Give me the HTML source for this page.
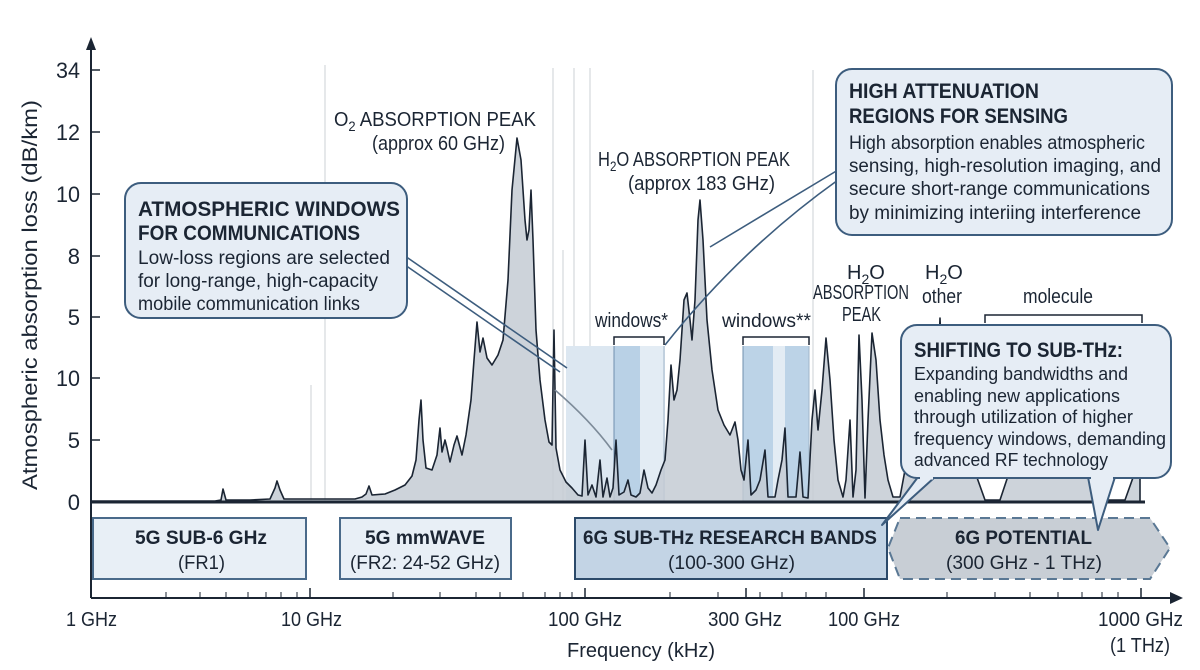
<!DOCTYPE html>
<html><head><meta charset="utf-8"><style>
body{margin:0;background:#fff;}
svg{display:block;font-family:"Liberation Sans",sans-serif;}
</style></head><body>
<svg width="1200" height="670" viewBox="0 0 1200 670" xmlns="http://www.w3.org/2000/svg">
<rect width="1200" height="670" fill="#fff"/>
<g stroke="#d4d8dc" stroke-width="1.2">
<line x1="325" y1="65" x2="325" y2="502"/>
<line x1="311" y1="385" x2="311" y2="502"/>
<line x1="553" y1="68" x2="553" y2="502"/>
<line x1="563" y1="250" x2="563" y2="502"/>
<line x1="574" y1="68" x2="574" y2="502"/>
<line x1="590" y1="68" x2="590" y2="502"/>
<line x1="813" y1="70" x2="813" y2="502"/>
</g>
<g>
<rect x="566" y="346" width="48" height="156" fill="#dce7f1"/>
<rect x="614" y="346" width="26" height="156" fill="#b9d1e6"/>
<rect x="640" y="346" width="25" height="156" fill="#e3ecf4"/>
<rect x="743" y="346" width="30" height="156" fill="#bcd3e7"/>
<rect x="773" y="346" width="12" height="156" fill="#e3ecf4"/>
<rect x="785" y="346" width="24" height="156" fill="#bcd3e7"/>
<line x1="614" y1="346" x2="614" y2="502" stroke="#6f8fae" stroke-width="1"/>
<line x1="664" y1="346" x2="664" y2="502" stroke="#9fb4c8" stroke-width="1"/>
<line x1="743" y1="346" x2="743" y2="502" stroke="#6f8fae" stroke-width="1"/>
<line x1="809" y1="346" x2="809" y2="502" stroke="#9fb4c8" stroke-width="1"/>
</g>
<path fill="#c4cbd3" fill-opacity="0.85" stroke="#1b2533" stroke-width="1.6" stroke-linejoin="round" d="
M91,501 L215,501 L221,500 L223,489 L226,500 L250,500 L270,499 L275,488 L277,481 L280,490 L284,499 L355,499 L362,497 L366,494 L369,486 L372,495 L385,494 L395,490 L405,485 L412,476 L416,460 L419,420 L421,400 L423,440 L426,468 L432,470 L437,455 L440,428 L442,452 L445,440 L447,448 L450,462 L454,445 L457,436 L462,455 L466,435 L471,400 L474,360 L477,322 L480,352 L483,338 L487,358 L492,365 L498,355 L503,340 L508,280 L512,190 L517,138 L521,160 L525,220 L527,240 L529,230 L531,190 L533,240 L536,330 L540,380 L545,420 L549,442 L552,445 L554,330 L556,448 L560,470 L566,482 L572,488 L578,495 L582,496 L585,440 L588,495 L592,485 L596,497 L600,460 L603,497 L607,478 L610,497 L613,488 L616,440 L619,495 L624,492 L628,480 L631,495 L636,497 L640,493 L644,470 L648,488 L652,493 L656,485 L661,470 L665,460 L668,420 L671,365 L674,400 L677,390 L680,360 L684,300 L687,293 L690,320 L692,340 L695,300 L698,220 L700,200 L703,240 L707,320 L712,370 L718,410 L724,425 L730,435 L735,422 L738,440 L741,470 L744,480 L748,440 L751,495 L756,490 L760,480 L765,450 L768,497 L775,497 L778,480 L782,460 L785,428 L788,497 L796,497 L800,452 L803,497 L808,498 L812,420 L815,390 L818,430 L822,390 L826,338 L830,380 L834,440 L838,480 L843,497 L846,480 L850,420 L853,497 L856,470 L859,335 L862,400 L865,498 L868,420 L872,333 L876,360 L880,420 L884,455 L888,480 L893,497 L900,497 L905,470 L925,470 L930,440 L936,420 L940,318 L944,420 L950,470 L975,472 L985,500 L1000,500 L1010,470 L1085,470 L1100,500 L1125,500 L1135,472 L1140,472 L1140,502 L91,502 Z"/>
<line x1="91" y1="502" x2="1145" y2="502" stroke="#1b2533" stroke-width="3"/>
<line x1="91" y1="598" x2="91" y2="48" stroke="#1b2533" stroke-width="2"/>
<polygon points="91,37 86,50 96,50" fill="#1b2533"/>
<g stroke="#1b2533" stroke-width="1.5">
<line x1="91" y1="70" x2="100" y2="70"/><line x1="91" y1="132" x2="100" y2="132"/>
<line x1="91" y1="194" x2="100" y2="194"/><line x1="91" y1="256" x2="100" y2="256"/>
<line x1="91" y1="317" x2="100" y2="317"/><line x1="91" y1="378" x2="100" y2="378"/>
<line x1="91" y1="440" x2="100" y2="440"/>
</g>
<g font-size="22" fill="#1b2533" text-anchor="end">
<text x="80" y="78" textLength="24" lengthAdjust="spacingAndGlyphs">34</text><text x="80" y="140" textLength="24" lengthAdjust="spacingAndGlyphs">12</text><text x="80" y="202" textLength="24" lengthAdjust="spacingAndGlyphs">10</text>
<text x="80" y="264">8</text><text x="80" y="325">5</text><text x="80" y="386" textLength="24" lengthAdjust="spacingAndGlyphs">10</text>
<text x="80" y="448">5</text><text x="80" y="510">0</text>
</g>
<text transform="translate(37,295) rotate(-90)" font-size="21" fill="#1b2533" text-anchor="middle" textLength="390" lengthAdjust="spacingAndGlyphs">Atmospheric absorption loss (dB/km)</text>
<line x1="91" y1="598" x2="1172" y2="598" stroke="#1b2533" stroke-width="2"/>
<polygon points="1183,598 1170,592 1170,604" fill="#1b2533"/>
<g stroke="#1b2533" stroke-width="1">
<line x1="166" y1="592" x2="166" y2="598"/><line x1="200" y1="592" x2="200" y2="598"/><line x1="226" y1="592" x2="226" y2="598"/><line x1="248" y1="592" x2="248" y2="598"/><line x1="266" y1="592" x2="266" y2="598"/><line x1="281" y1="592" x2="281" y2="598"/><line x1="297" y1="592" x2="297" y2="598"/>
<line x1="310" y1="588" x2="310" y2="598" stroke-width="1.5"/>
<line x1="393" y1="592" x2="393" y2="598"/><line x1="440" y1="592" x2="440" y2="598"/><line x1="476" y1="592" x2="476" y2="598"/><line x1="500" y1="592" x2="500" y2="598"/><line x1="523" y1="592" x2="523" y2="598"/><line x1="545" y1="592" x2="545" y2="598"/><line x1="560" y1="592" x2="560" y2="598"/><line x1="572" y1="592" x2="572" y2="598"/>
<line x1="585" y1="588" x2="585" y2="598" stroke-width="1.5"/>
<line x1="670" y1="592" x2="670" y2="598"/><line x1="718" y1="592" x2="718" y2="598"/><line x1="746" y1="588" x2="746" y2="598" stroke-width="1.5"/><line x1="760" y1="592" x2="760" y2="598"/><line x1="782" y1="592" x2="782" y2="598"/><line x1="806" y1="592" x2="806" y2="598"/><line x1="826" y1="592" x2="826" y2="598"/>
<line x1="864" y1="588" x2="864" y2="598" stroke-width="1.5"/>
<line x1="947" y1="592" x2="947" y2="598"/><line x1="995" y1="592" x2="995" y2="598"/><line x1="1030" y1="592" x2="1030" y2="598"/><line x1="1058" y1="592" x2="1058" y2="598"/><line x1="1082" y1="592" x2="1082" y2="598"/><line x1="1102" y1="592" x2="1102" y2="598"/><line x1="1118" y1="592" x2="1118" y2="598"/>
<line x1="1141" y1="588" x2="1141" y2="598" stroke-width="1.5"/>
</g>
<g font-size="20" fill="#1b2533">
<text x="66" y="626" textLength="51" lengthAdjust="spacingAndGlyphs">1 GHz</text>
<text x="281" y="626" textLength="61" lengthAdjust="spacingAndGlyphs">10 GHz</text>
<text x="548" y="626" textLength="74" lengthAdjust="spacingAndGlyphs">100 GHz</text>
<text x="708" y="626" textLength="74" lengthAdjust="spacingAndGlyphs">300 GHz</text>
<text x="828" y="626" textLength="72" lengthAdjust="spacingAndGlyphs">100 GHz</text>
<text x="1098" y="626" textLength="85" lengthAdjust="spacingAndGlyphs">1000 GHz</text>
<text x="1110" y="652" textLength="60" lengthAdjust="spacingAndGlyphs">(1 THz)</text>
<text x="567" y="657" textLength="148" lengthAdjust="spacingAndGlyphs">Frequency (kHz)</text>
</g>
<rect x="93" y="518" width="213" height="61" fill="#e8eff6" stroke="#4a6a8a" stroke-width="2"/>
<text x="135" y="544" font-size="19" font-weight="bold" fill="#1b2533" textLength="132" lengthAdjust="spacingAndGlyphs">5G SUB-6 GHz</text>
<text x="178" y="569" font-size="19" fill="#1b2533" textLength="47" lengthAdjust="spacingAndGlyphs">(FR1)</text>
<rect x="340" y="518" width="171" height="61" fill="#e8eff6" stroke="#4a6a8a" stroke-width="2"/>
<text x="365" y="544" font-size="19" font-weight="bold" fill="#1b2533" textLength="120" lengthAdjust="spacingAndGlyphs">5G mmWAVE</text>
<text x="350" y="569" font-size="19" fill="#1b2533" textLength="150" lengthAdjust="spacingAndGlyphs">(FR2: 24-52 GHz)</text>
<rect x="575" y="518" width="312" height="61" fill="#c3d4e5" stroke="#2c4a6a" stroke-width="2"/>
<text x="583" y="544" font-size="19" font-weight="bold" fill="#1b2533" textLength="294" lengthAdjust="spacingAndGlyphs">6G SUB-THz RESEARCH BANDS</text>
<text x="668" y="569" font-size="19" fill="#1b2533" textLength="127" lengthAdjust="spacingAndGlyphs">(100-300 GHz)</text>
<polygon points="900,518 1150,518 1170,548 1150,579 900,579 888,548" fill="#c8ced5" stroke="#5a7894" stroke-width="2" stroke-dasharray="10,6"/>
<text x="955" y="544" font-size="19" font-weight="bold" fill="#1b2533" textLength="137" lengthAdjust="spacingAndGlyphs">6G POTENTIAL</text>
<text x="946" y="569" font-size="19" fill="#1b2533" textLength="156" lengthAdjust="spacingAndGlyphs">(300 GHz - 1 THz)</text>
<g stroke="#3d5d7e" stroke-width="1.6" fill="none">
<line x1="405" y1="256" x2="567" y2="368"/>
<line x1="405" y1="265" x2="560" y2="372"/>
<path d="M555,390 Q590,420 612,450" stroke="#7d8b99"/>
<line x1="838" y1="170" x2="710" y2="247"/>
<path d="M838,180 Q740,250 665,345"/>
</g>
<g font-size="20" fill="#1b2533">
<text x="334" y="126" textLength="202" lengthAdjust="spacingAndGlyphs">O<tspan font-size="14" dy="5">2</tspan><tspan dy="-5"> ABSORPTION PEAK</tspan></text>
<text x="372" y="150" textLength="133" lengthAdjust="spacingAndGlyphs">(approx 60 GHz)</text>
<text x="598" y="166" textLength="192" lengthAdjust="spacingAndGlyphs">H<tspan font-size="14" dy="5">2</tspan><tspan dy="-5">O ABSORPTION PEAK</tspan></text>
<text x="628" y="190" textLength="147" lengthAdjust="spacingAndGlyphs">(approx 183 GHz)</text>
<text x="595" y="327" textLength="73" lengthAdjust="spacingAndGlyphs">windows*</text>
<text x="722" y="327" font-size="19" textLength="89" lengthAdjust="spacingAndGlyphs">windows**</text>
<text x="847" y="279">H<tspan font-size="14" dy="5">2</tspan><tspan dy="-5">O</tspan></text>
<text x="813" y="299" textLength="96" lengthAdjust="spacingAndGlyphs">ABSORPTION</text>
<text x="842" y="321" textLength="39" lengthAdjust="spacingAndGlyphs">PEAK</text>
<text x="925" y="279">H<tspan font-size="14" dy="5">2</tspan><tspan dy="-5">O</tspan></text>
<text x="922" y="303" textLength="40" lengthAdjust="spacingAndGlyphs">other</text>
<text x="1023" y="303" textLength="70" lengthAdjust="spacingAndGlyphs">molecule</text>
</g>
<g stroke="#1b2533" stroke-width="1.5" fill="none">
<polyline points="614,345 614,337 664,337 664,345"/>
<polyline points="743,345 743,337 809,337 809,345"/>
<polyline points="985,323 985,315 1142,315 1142,323"/>
</g>
<rect x="125" y="183" width="282" height="135" rx="16" fill="#e6edf5" stroke="#3d5d7e" stroke-width="2"/>
<text x="138" y="216" font-size="21" font-weight="bold" fill="#1b2533" textLength="262" lengthAdjust="spacingAndGlyphs">ATMOSPHERIC WINDOWS</text>
<text x="138" y="240" font-size="21" font-weight="bold" fill="#1b2533" textLength="222" lengthAdjust="spacingAndGlyphs">FOR COMMUNICATIONS</text>
<text x="138" y="264" font-size="19" fill="#1b2533" textLength="252" lengthAdjust="spacingAndGlyphs">Low-loss regions are selected</text>
<text x="138" y="287" font-size="19" fill="#1b2533" textLength="240" lengthAdjust="spacingAndGlyphs">for long-range, high-capacity</text>
<text x="138" y="310" font-size="19" fill="#1b2533" textLength="222" lengthAdjust="spacingAndGlyphs">mobile communication links</text>
<rect x="836" y="69" width="336" height="166" rx="16" fill="#e6edf5" stroke="#3d5d7e" stroke-width="2"/>
<text x="849" y="98" font-size="21" font-weight="bold" fill="#1b2533" textLength="190" lengthAdjust="spacingAndGlyphs">HIGH ATTENUATION</text>
<text x="849" y="123" font-size="21" font-weight="bold" fill="#1b2533" textLength="219" lengthAdjust="spacingAndGlyphs">REGIONS FOR SENSING</text>
<text x="849" y="149" font-size="19" fill="#1b2533" textLength="296" lengthAdjust="spacingAndGlyphs">High absorption enables atmospheric</text>
<text x="849" y="172" font-size="19" fill="#1b2533" textLength="312" lengthAdjust="spacingAndGlyphs">sensing, high-resolution imaging, and</text>
<text x="849" y="195" font-size="19" fill="#1b2533" textLength="301" lengthAdjust="spacingAndGlyphs">secure short-range communications</text>
<text x="849" y="219" font-size="19" fill="#1b2533" textLength="292" lengthAdjust="spacingAndGlyphs">by minimizing interiing interference</text>
<path d="M918,477 L882,525 L935,477 Z M1088,477 L1098,530 L1115,477 Z" fill="#e6edf5" stroke="#3d5d7e" stroke-width="2" stroke-linejoin="round"/>
<rect x="901" y="325" width="270" height="153" rx="16" fill="#e6edf5" stroke="#3d5d7e" stroke-width="2"/>
<line x1="920" y1="478" x2="933" y2="478" stroke="#e6edf5" stroke-width="3"/>
<line x1="1091" y1="478" x2="1113" y2="478" stroke="#e6edf5" stroke-width="3"/>
<text x="914" y="357" font-size="21" font-weight="bold" fill="#1b2533" textLength="209" lengthAdjust="spacingAndGlyphs">SHIFTING TO SUB-THz:</text>
<text x="914" y="380" font-size="18.5" fill="#1b2533" textLength="214" lengthAdjust="spacingAndGlyphs">Expanding bandwidths and</text>
<text x="914" y="402" font-size="18.5" fill="#1b2533" textLength="206" lengthAdjust="spacingAndGlyphs">enabling new applications</text>
<text x="914" y="423" font-size="18.5" fill="#1b2533" textLength="219" lengthAdjust="spacingAndGlyphs">through utilization of higher</text>
<text x="914" y="445" font-size="18.5" fill="#1b2533" textLength="252" lengthAdjust="spacingAndGlyphs">frequency windows, demanding</text>
<text x="914" y="466" font-size="18.5" fill="#1b2533" textLength="194" lengthAdjust="spacingAndGlyphs">advanced RF technology</text>
</svg>
</body></html>
